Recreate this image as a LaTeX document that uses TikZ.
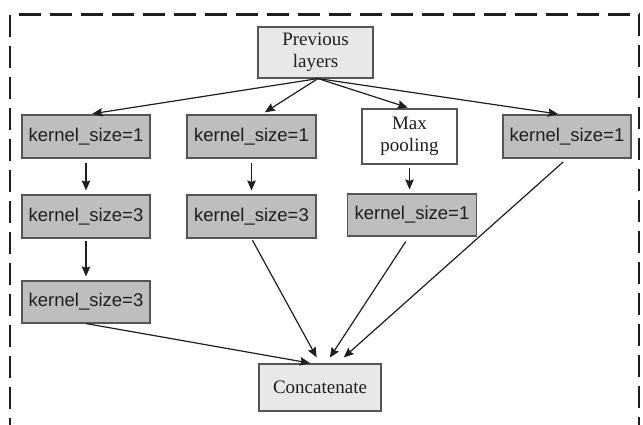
\documentclass[tikz,border=0pt]{standalone}
\usepackage{fontspec}
\setmainfont{Liberation Serif}
\setsansfont{Liberation Sans}
\usetikzlibrary{arrows.meta}
\definecolor{kfill}{RGB}{190,190,190}
\definecolor{lfill}{RGB}{232,232,232}
\definecolor{edge}{RGB}{85,85,85}
\definecolor{ink}{RGB}{30,30,30}
\begin{document}
\begin{tikzpicture}[x=1pt,y=-1pt,
  box/.style={draw=edge,line width=1.1pt,inner sep=0pt,align=center,text=ink},
  kbox/.style={box,fill=kfill,font=\sffamily\fontsize{18.5}{21}\selectfont,minimum width=128pt,minimum height=43pt},
  sbox/.style={box,font=\fontsize{19}{21.5}\selectfont},
  arr/.style={draw=ink,line width=1.2pt,-{Stealth[length=10pt,width=8.5pt,inset=1.5pt]}},
  frame/.style={draw=ink,line width=2.6pt,dash pattern=on 22pt off 9pt}]
\useasboundingbox (0,0) rectangle (643,424);
\begin{scope}
\clip (0,0) rectangle (643,424);
\draw[frame] (10,440) -- (10,14.5) -- (639,14.5) -- (639,440);
\end{scope}
% nodes
\node[sbox,fill=lfill,minimum width=115pt,minimum height=51pt] (prev) at (315.5,52.5) {Previous\\layers};
\node[kbox] (k11) at (86,136.5) {kernel\_size=1};
\node[kbox,minimum width=129pt] (k21) at (251.5,136.5) {kernel\_size=1};
\node[sbox,fill=white,minimum width=95pt,minimum height=55pt] (mp) at (409.5,136.5) {Max\\pooling};
\node[kbox] (k41) at (567,136.5) {kernel\_size=1};
\node[kbox] (k12) at (86,216.5) {kernel\_size=3};
\node[kbox,minimum width=129pt] (k22) at (251.5,216.5) {kernel\_size=3};
\node[kbox,minimum width=129pt,minimum height=42pt] (k32) at (412,215) {kernel\_size=1};
\node[kbox,minimum height=42pt] (k13) at (86,302) {kernel\_size=3};
\node[sbox,fill=lfill,minimum width=122pt,minimum height=47pt] (cat) at (320,387.5) {Concatenate};
% top fan-out
\coordinate (ps) at ([xshift=2.5pt]prev.south);
\draw[arr,shorten >=4.5pt] (ps) -- ([xshift=2pt]k11.north);
\draw[arr,shorten >=4pt] (ps) -- ([xshift=10pt]k21.north);
\draw[arr,shorten >=3pt] (ps) -- ([xshift=1pt]mp.north);
\draw[arr,shorten >=3pt] (ps) -- ([xshift=-6pt]k41.north);
% verticals
\draw[arr,shorten <=4pt,shorten >=4pt] (k11.south) -- (k12.north);
\draw[arr,shorten <=4pt,shorten >=4pt] (k21.south) -- (k22.north);
\draw[arr,shorten <=3pt,shorten >=4pt] (mp.south) -- (mp.south |- k32.north);
\draw[arr,shorten <=2pt,shorten >=4pt] (k12.south) -- (k13.north);
% into concatenate
\draw[arr,shorten >=2pt] (k13.south) -- ([xshift=-8pt]cat.north);
\draw[arr,shorten <=2pt,shorten >=7pt] (k22.south) -- (cat.north);
\draw[arr,shorten <=6pt,shorten >=7pt] ([xshift=-3pt]k32.south) -- ([xshift=6pt]cat.north);
\draw[arr,shorten <=5pt,shorten >=9pt] (k41.south) -- ([xshift=17pt]cat.north);
\end{tikzpicture}
\end{document}
